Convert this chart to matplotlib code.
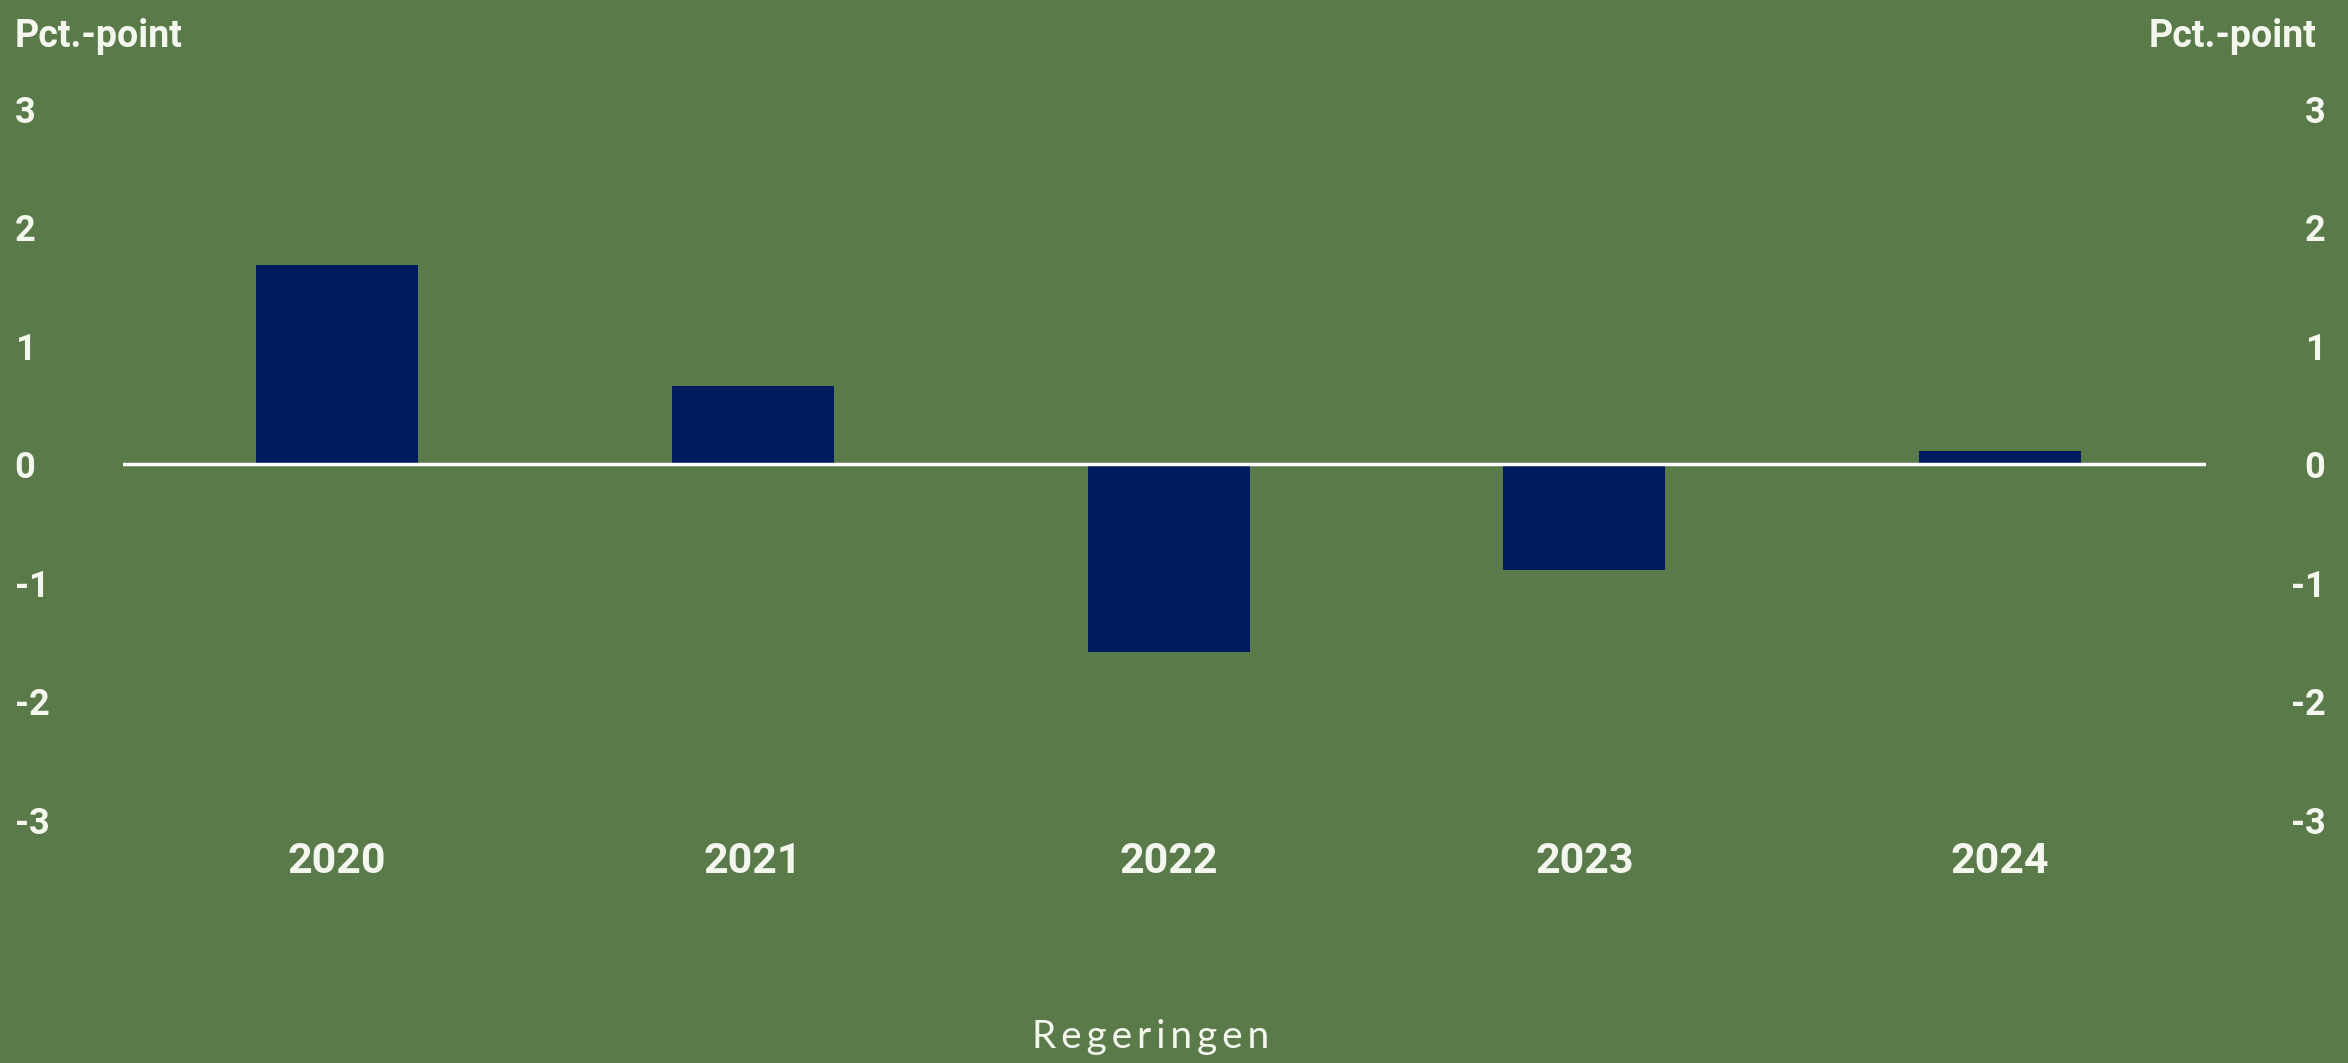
import matplotlib.pyplot as plt
from matplotlib import font_manager

years = ["2020", "2021", "2022", "2023", "2024"]
values = [1.68, 0.66, -1.58, -0.89, 0.11]
yticks = [-3, -2, -1, 0, 1, 2, 3]

bg = "#5b7a4a"
bar_color = "#001a5e"
txt = "#f4f7ee"

# pick a condensed bold font if one is installed
names = {f.name for f in font_manager.fontManager.ttflist}
cond = "Liberation Sans Narrow" if "Liberation Sans Narrow" in names else "Roboto"

fig = plt.figure(figsize=(23.48, 10.63), dpi=100, facecolor=bg)
ax = fig.add_axes([0.0524, 0.2286, 0.8871, 0.6689])
ax.set_facecolor(bg)

ax.bar(range(len(years)), values, width=0.39, color=bar_color, zorder=2)
ax.axhline(0, color="white", lw=2.5, zorder=3)

ax.set_xlim(-0.515, len(years) - 0.505)
ax.set_ylim(-3, 3)
ax.set_xticks(range(len(years)))
ax.set_xticklabels(years, fontfamily=cond, fontweight="bold", fontsize=31, color=txt)
ax.set_yticks(yticks)
ax.set_yticklabels([str(t) for t in yticks], fontfamily=cond, fontweight="bold",
                   fontsize=26, color=txt, ha="left")
ax.tick_params(axis="x", length=0, pad=15)
ax.tick_params(axis="y", length=0, pad=78)
for s in ax.spines.values():
    s.set_visible(False)

ax2 = ax.twinx()
ax2.set_ylim(-3, 3)
ax2.set_yticks(yticks)
ax2.set_yticklabels([str(t) for t in yticks], fontfamily=cond, fontweight="bold",
                    fontsize=26, color=txt, ha="right")
ax2.tick_params(axis="y", length=0, pad=86)
for s in ax2.spines.values():
    s.set_visible(False)

fig.text(0.0064, 0.966, "Pct.-point", fontfamily=cond, fontweight="bold", fontsize=27,
         color=txt, ha="left", va="center")
fig.text(0.9864, 0.966, "Pct.-point", fontfamily=cond, fontweight="bold", fontsize=27,
         color=txt, ha="right", va="center")
fig.text(0.49, 0.024, "\u2009".join("Regeringen"), fontfamily="Lato", fontsize=28,
         color=txt, ha="center", va="center")

fig.savefig("out.png", dpi=100, facecolor=bg)
